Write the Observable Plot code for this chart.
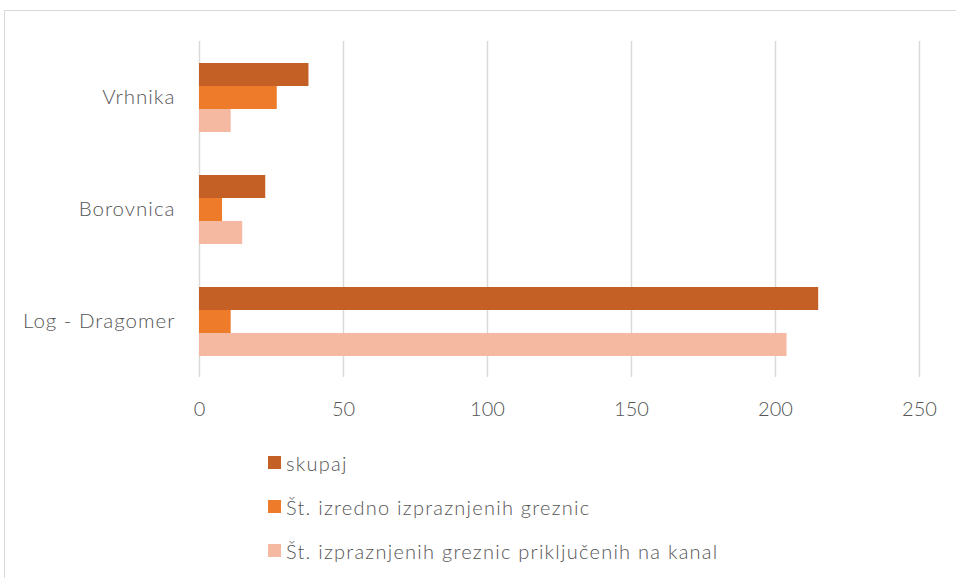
<!DOCTYPE html>
<html>
<head>
<meta charset="utf-8">
<script src="https://cdn.jsdelivr.net/npm/d3@7"></script>
<script src="https://cdn.jsdelivr.net/npm/@observablehq/plot@0.6"></script>
<style>
  html, body { margin: 0; padding: 0; background: #fff; }
  body { width: 956px; height: 578px; overflow: hidden; position: relative; font-family: Lato, "Open Sans", sans-serif; }
  #frame { position: absolute; left: 4px; top: 10px; width: 960px; height: 580px;
           border-top: 1.5px solid #d9d9d9; border-left: 1.5px solid #d9d9d9; }
  #chart { position: absolute; left: -1.5px; top: -1.5px; }
  #legend { position: absolute; left: 262.5px; top: 429.5px; }
  .item { display: flex; align-items: center; height: 44px; color: #555; font-size: 20px; font-weight: 300; letter-spacing: 1.25px; }
  .sw { width: 13.5px; height: 13.5px; margin-right: 5px; flex: none; }
  svg text { font-weight: 300; }
  svg g[aria-label="fy-axis tick label"] text, svg g[aria-label="fy-axis tick label"] { font-size: 20.5px; letter-spacing: 1px; }
  svg g[aria-label="x-axis tick label"] { letter-spacing: 0px; }
</style>
</head>
<body>
<div id="frame">
  <div id="chart"></div>
  <div id="legend"></div>
</div>
<script>
const categories = ["Vrhnika", "Borovnica", "Log - Dragomer"];
const series = ["skupaj", "Št. izredno izpraznjenih greznic", "Št. izpraznjenih greznic priključenih na kanal"];
const skupaj = [38, 23, 215];
const izredno = [27, 8, 11];
const kanal = [11, 15, 204];
const xTicks = [0, 50, 100, 150, 200, 250];
const colors = ["#c46026", "#ee7b2a", "#f5b8a1"];

const values = [skupaj, izredno, kanal];
const data = [];
categories.forEach((c, i) => {
  series.forEach((s, j) => data.push({category: c, series: s, value: values[j][i]}));
});

const chart = Plot.plot({
  width: 952,
  height: 420,
  marginTop: 30,
  marginLeft: 195,
  marginRight: 37,
  marginBottom: 53,
  style: {fontFamily: "Lato, 'Open Sans', sans-serif", fontSize: "20px", color: "#555", background: "transparent", letterSpacing: "0.8px"},
  x: {domain: [0, 250], ticks: xTicks, tickSize: 0, tickPadding: 24, label: null},
  y: {domain: series, axis: null, paddingInner: 0.02, paddingOuter: 0.9},
  fy: {domain: categories, padding: 0, label: null, tickSize: 0, tickPadding: 24},
  color: {domain: series, range: colors},
  marks: [
    Plot.ruleX(xTicks, {x: d => d, stroke: "#d9d9d9", strokeWidth: 1.5, strokeOpacity: 1}),
    Plot.barX(data, {x: "value", y: "series", fy: "category", fill: "series"})
  ]
});
document.getElementById("chart").appendChild(chart);

const legend = document.getElementById("legend");
series.forEach((s, j) => {
  const item = document.createElement("div");
  item.className = "item";
  const sw = document.createElement("span");
  sw.className = "sw";
  sw.style.background = colors[j];
  const t = document.createElement("span");
  t.textContent = s;
  item.appendChild(sw);
  item.appendChild(t);
  legend.appendChild(item);
});
</script>
</body>
</html>
